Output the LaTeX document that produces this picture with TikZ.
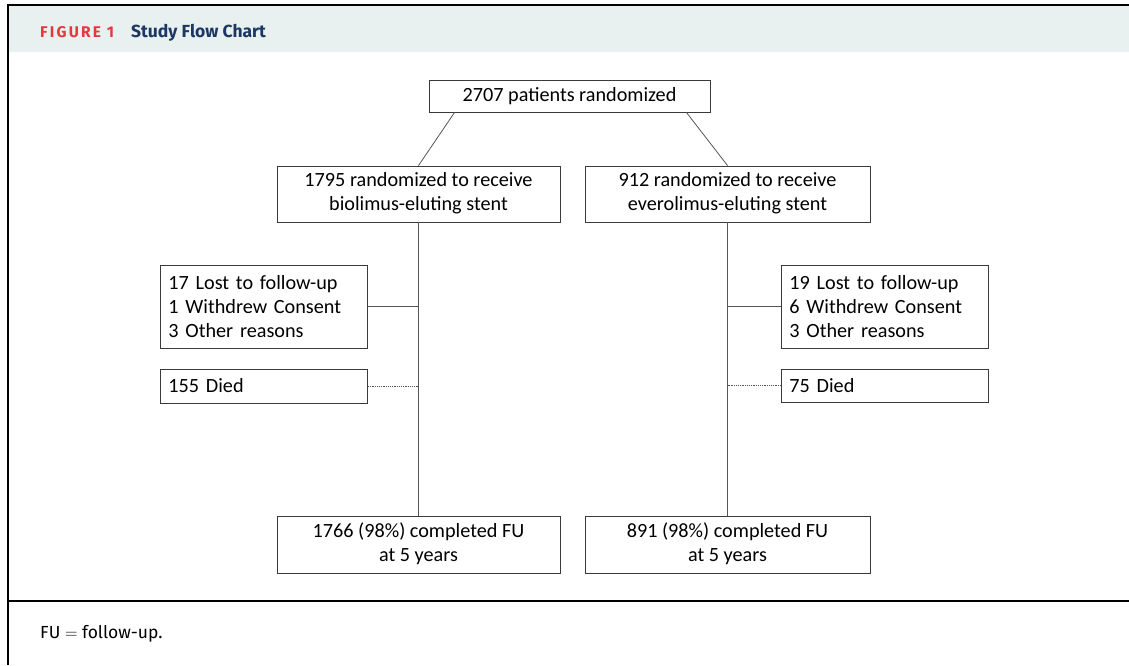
\documentclass[tikz,border=0pt]{standalone}
\usepackage{fontspec}
\setmainfont{Carlito}
\newfontfamily\headfont{Fira Sans}
\usetikzlibrary{calc}
\definecolor{hdrbg}{HTML}{E8F0F0}
\definecolor{figred}{HTML}{E03A3E}
\definecolor{navy}{HTML}{1C3764}
\definecolor{boxline}{HTML}{3A3A3A}
\definecolor{conn}{HTML}{555555}
\newcommand{\twoline}[2]{\raisebox{-2pt}{\begin{tabular}{@{}c@{}}#1\\#2\end{tabular}}}
\tikzset{
  box/.style={draw=boxline, line width=0.9pt, minimum height=#1, inner sep=0pt, font=\fontsize{20.2}{24}\selectfont, align=center},
  box/.default=56pt,
  sidebox/.style={draw=boxline, line width=0.9pt, inner xsep=8pt, inner ysep=0pt, font=\fontsize{20.2}{24}\selectfont, align=left, anchor=west, text width=191pt},
  conline/.style={draw=conn, line width=0.8pt},
  dotline/.style={draw=conn, line width=0.8pt, dash pattern=on 1.2pt off 1pt},
  frame/.style={line width=1.6pt, draw=black}
}
\begin{document}
\begin{tikzpicture}[x=1pt,y=-1pt]
\useasboundingbox (0,0) rectangle (1129,665);
% header band
\fill[hdrbg] (8,5) rectangle (1129,52);
\draw[frame] (1129,5) -- (8,5) -- (8,665);
\draw[frame] (8,601) -- (1129,601);
\node[anchor=base west, inner sep=0pt, text=figred, font=\headfont\bfseries\fontsize{15.5}{17}\selectfont\addfontfeatures{LetterSpace=14}] (figlbl) at (40,37.5) {FIGURE 1};
\node[anchor=base west, inner sep=0pt, text=navy, font=\headfont\bfseries\fontsize{17.5}{20}\selectfont] (figttl) at (131,37.5) {Study Flow Chart};
\node[anchor=base west, inner sep=0pt, font=\headfont\fontsize{17.5}{20}\selectfont] (foot) at (40,638) {FU $=$ follow-up.};

% boxes
\node[box=32pt, minimum width=281pt] (top) at (569.5,96) {\raisebox{-1.5pt}{2707 patients randomized}};
\node[box, minimum width=283pt] (l1) at (418.5,194) {\twoline{1795 randomized to receive}{biolimus-eluting stent}};
\node[box, minimum width=285pt] (r1) at (727.5,194) {\twoline{912 randomized to receive}{everolimus-eluting stent}};
\node[sidebox, minimum height=83pt] (ls) at (160,306.5) {17 Lost to follow-up\\1 Withdrew Consent\\3 Other reasons};
\node[sidebox, minimum height=34pt] (ld) at (160,386) {155 Died};
\node[sidebox, minimum height=83pt] (rs) at (781,306.5) {19 Lost to follow-up\\6 Withdrew Consent\\3 Other reasons};
\node[sidebox, minimum height=33pt] (rd) at (781,385.5) {75 Died};
\node[box=57pt, minimum width=283pt] (l2) at (418.5,544.5) {\twoline{1766 (98\%) completed FU}{at 5 years}};
\node[box=57pt, minimum width=285pt] (r2) at (727.5,544.5) {\twoline{891 (98\%) completed FU}{at 5 years}};

% connectors
\draw[conline] ([xshift=26pt]top.south west) -- (l1.north);
\draw[conline] ([xshift=-24pt]top.south east) -- (r1.north);
\draw[conline] (l1.south) -- (l2.north);
\draw[conline] (r1.south) -- (r2.north);
\draw[conline] (ls.east) -- (ls.east -| l1.south);
\draw[dotline] (ld.east) -- (ld.east -| l1.south);
\draw[conline] (rs.west) -- (rs.west -| r1.south);
\draw[dotline] (rd.west) -- (rd.west -| r1.south);
\end{tikzpicture}
\end{document}
